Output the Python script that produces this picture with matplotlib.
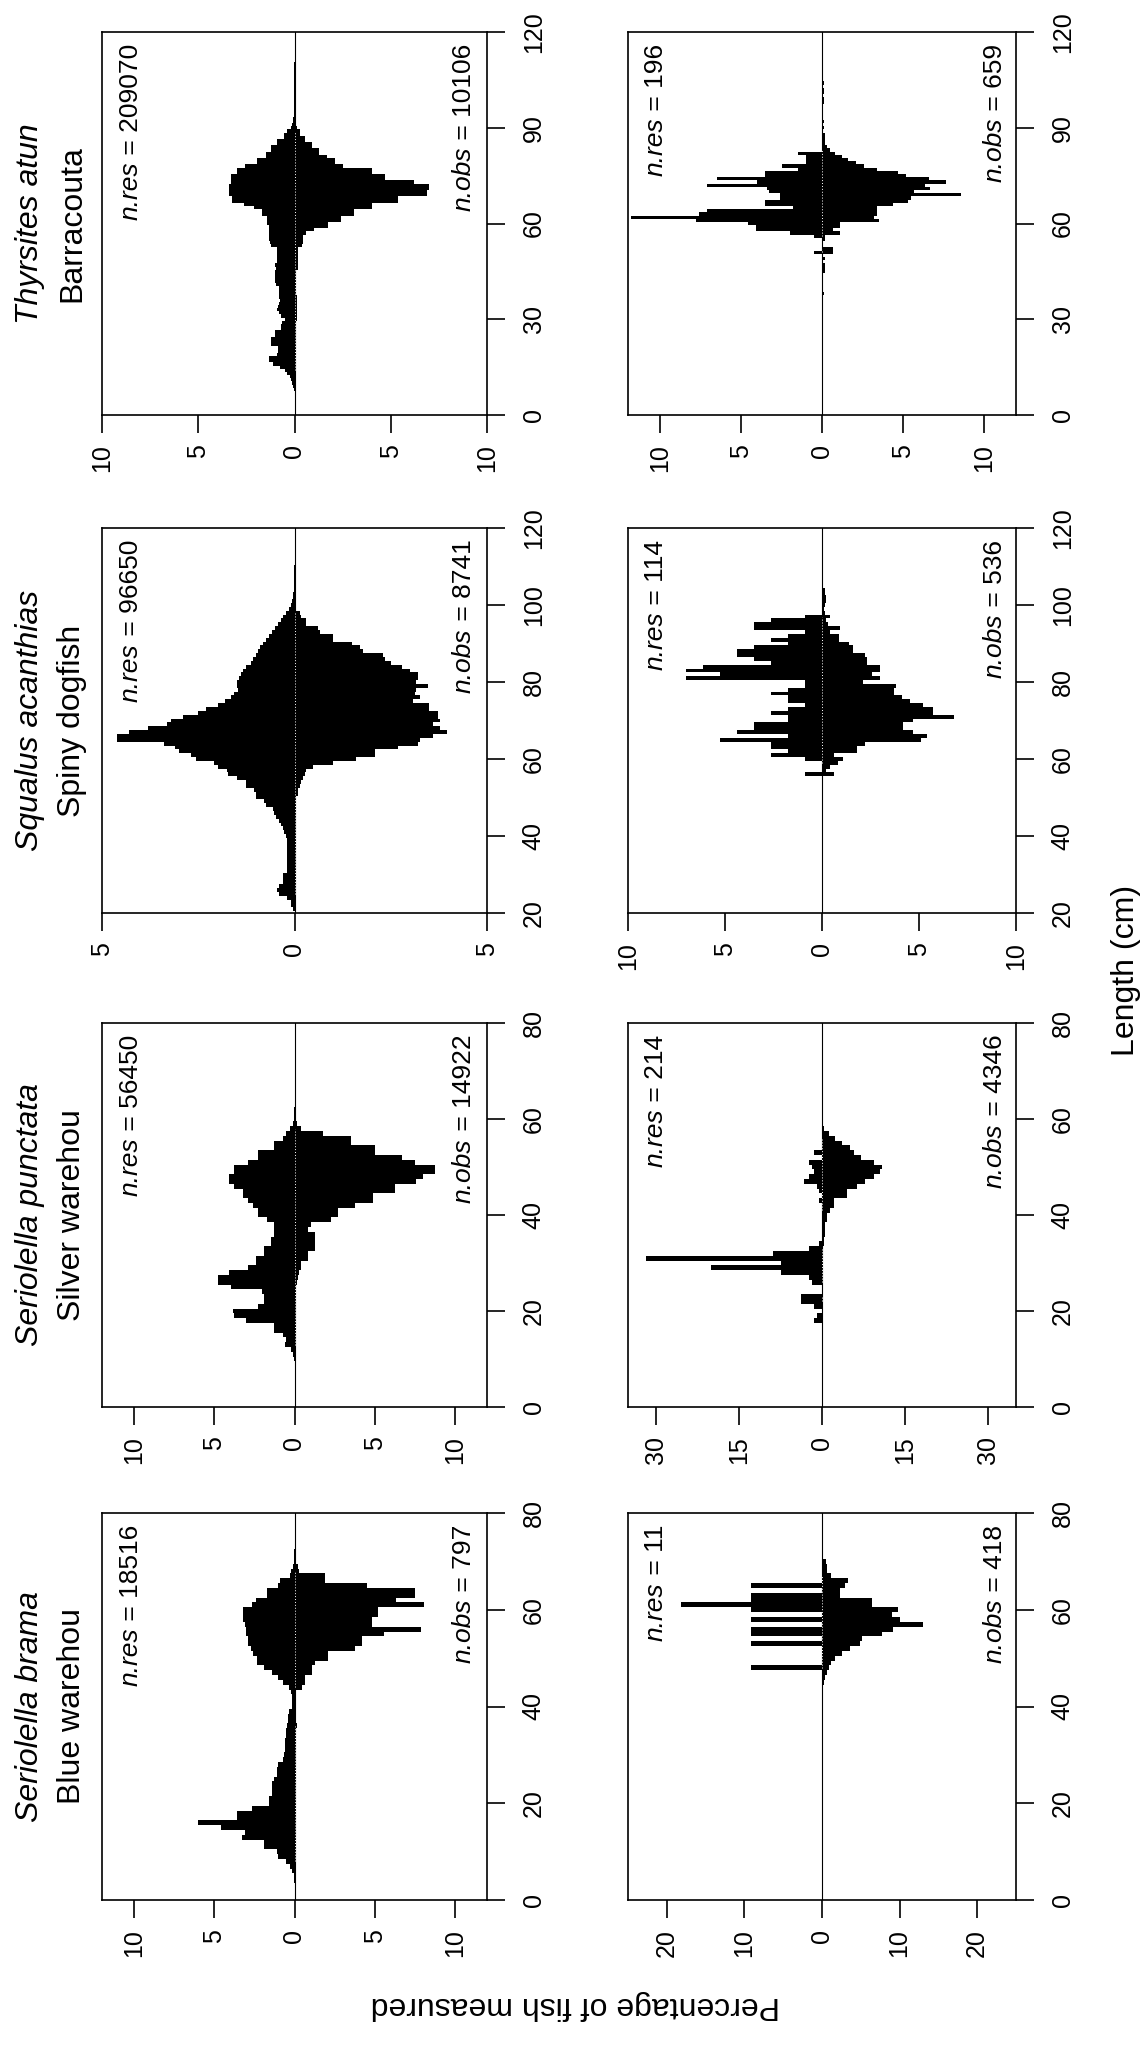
import numpy as np
import matplotlib.pyplot as plt

plt.rcParams['font.family'] = ['Liberation Sans', 'DejaVu Sans']

# page is printed sideways: species run top to bottom, left column = all fish,
# right column = subset. res to the left of 0, obs to the right.
species = ['Thyrsites atun', 'Squalus acanthias', 'Seriolella punctata', 'Seriolella brama']
common_names = ['Barracouta', 'Spiny dogfish', 'Silver warehou', 'Blue warehou']

n_res = [[209070, 196], [96650, 114], [56450, 214], [18516, 11]]
n_obs = [[10106, 659], [8741, 536], [14922, 4346], [797, 418]]

# percentage of fish per 1 cm length class, first class given by *_start
thyr_all_start = 8
thyr_all_res = [0.05, 0.1, 0.15, 0.2, 0.25, 0.4, 0.5, 0.75, 1.1, 1.3,
                1.3, 0.9, 0.85, 0.85, 1.2, 1.2, 1.2, 1.0, 1.0, 0.7,
                0.7, 0.65, 0.5, 0.7, 0.8, 0.9, 0.85, 0.8, 0.75, 0.8,
                0.8, 0.8, 0.8, 0.95, 1.0, 1.0, 1.0, 1.0, 0.95, 1.0,
                0.9, 0.9, 0.9, 0.9, 0.9, 1.2, 1.25, 1.3, 1.3, 1.3,
                1.3, 1.3, 1.45, 1.45, 1.45, 1.7, 1.7, 2.1, 2.6, 3.25,
                3.25, 3.4, 3.4, 3.4, 3.4, 3.3, 3.3, 3.3, 3.0, 3.0,
                2.55, 1.95, 1.95, 1.5, 1.5, 1.2, 1.2, 0.9, 0.9, 0.55,
                0.55, 0.4, 0.2, 0.12, 0.08, 0.06, 0.05, 0.04, 0.03, 0.03,
                0.03, 0.02, 0.02, 0.01, 0.01, 0.01, 0.01, 0.01, 0.01, 0.01,
                0.01, 0.01, 0.01]
thyr_all_obs = [0, 0, 0, 0, 0, 0, 0, 0, 0, 0,
                0, 0, 0, 0, 0, 0, 0, 0, 0, 0,
                0, 0, 0.15, 0.15, 0.15, 0.15, 0.15, 0.15, 0.15, 0.15,
                0.1, 0.1, 0.1, 0.1, 0.1, 0.1, 0.1, 0.1, 0.2, 0.2,
                0.2, 0.2, 0.2, 0.2, 0.2, 0.4, 0.45, 0.45, 0.45, 0.6,
                1.0, 1.75, 1.75, 2.4, 2.4, 3.1, 3.1, 4.0, 4.0, 5.4,
                5.4, 6.9, 6.9, 7.0, 7.0, 6.2, 4.7, 4.7, 4.0, 4.0,
                2.5, 2.1, 2.1, 1.7, 1.25, 1.25, 0.9, 0.9, 0.55, 0.55,
                0.3, 0.3, 0.12, 0.08, 0.05, 0.03, 0.02, 0.02, 0.02, 0.02,
                0.02, 0.02, 0.02, 0, 0, 0, 0, 0, 0, 0,
                0, 0, 0]

thyr_sub_start = 38
thyr_sub_res = [0, 0, 0, 0, 0, 0, 0, 0, 0, 0,
                0, 0, 0, 0.5, 0, 0, 0, 0, 0.5, 2.0,
                4.1, 4.1, 4.6, 7.8, 11.8, 7.6, 7.1, 1.8, 3.5, 3.5,
                2.6, 2.6, 3.3, 3.4, 7.1, 4.0, 6.5, 3.5, 3.5, 1.5,
                2.5, 1.0, 1.0, 1.0, 1.5, 0, 0, 0, 0, 0,
                0, 0, 0, 0, 0, 0, 0, 0, 0, 0,
                0, 0, 0, 0, 0, 0, 0]
thyr_sub_obs = [0.15, 0, 0, 0, 0, 0, 0, 0.2, 0.2, 0.2,
                0, 0.2, 0, 0.7, 0.7, 0, 0, 0.2, 0.2, 1.1,
                0.7, 1.1, 1.1, 3.5, 3.2, 3.4, 3.4, 3.4, 4.4, 5.3,
                5.5, 8.6, 5.7, 6.7, 6.4, 7.7, 6.6, 5.2, 4.7, 3.4,
                2.6, 2.1, 1.6, 1.25, 0.8, 0.5, 0.3, 0.2, 0.2, 0.2,
                0.2, 0, 0.15, 0, 0.15, 0, 0, 0, 0, 0,
                0.15, 0.15, 0, 0.15, 0.15, 0, 0.15]

squa_all_start = 21
squa_all_res = [0.05, 0.1, 0.1, 0.2, 0.4, 0.45, 0.4, 0.3, 0.3, 0.3,
                0.2, 0.2, 0.2, 0.2, 0.2, 0.2, 0.2, 0.2, 0.2, 0.22,
                0.26, 0.3, 0.35, 0.39, 0.48, 0.52, 0.56, 0.74, 0.78, 1.0,
                1.0, 1.04, 1.25, 1.25, 1.5, 1.73, 1.75, 2.0, 2.1, 2.55,
                2.7, 3.0, 3.1, 3.4, 4.6, 4.6, 4.3, 3.8, 3.3, 3.2,
                2.9, 2.5, 2.3, 2.0, 1.8, 1.65, 1.56, 1.47, 1.5, 1.5,
                1.43, 1.4, 1.35, 1.26, 1.13, 1.08, 1.0, 0.95, 0.9, 0.82,
                0.75, 0.65, 0.58, 0.5, 0.42, 0.35, 0.3, 0.22, 0.15, 0.1,
                0.06, 0.04, 0.03, 0.02, 0.02, 0.01, 0.01, 0.01, 0.01, 0.01]
squa_all_obs = [0, 0, 0, 0, 0.05, 0.05, 0.05, 0.05, 0.05, 0.05,
                0.05, 0.05, 0.05, 0.05, 0.05, 0.05, 0.05, 0.05, 0.05, 0.05,
                0.05, 0.05, 0.05, 0.05, 0.05, 0.05, 0.05, 0.05, 0.05, 0.05,
                0.08, 0.1, 0.13, 0.17, 0.22, 0.26, 0.3, 0.48, 1.0, 1.6,
                2.1, 2.1, 2.7, 3.2, 3.25, 3.6, 3.95, 3.77, 3.6, 3.77,
                3.73, 3.73, 3.5, 3.5, 3.08, 3.25, 3.12, 3.16, 3.47, 3.16,
                3.2, 3.2, 3.0, 2.8, 2.5, 2.34, 2.3, 1.78, 1.7, 1.5,
                1.0, 1.0, 0.65, 0.6, 0.3, 0.3, 0.17, 0.13, 0.05, 0.05,
                0.03, 0.01, 0.01, 0.01, 0.01, 0.01, 0.01, 0.01, 0.01, 0.01]

squa_sub_start = 56
squa_sub_res = [0.88, 0, 0, 0, 0.88, 2.63, 1.75, 2.63, 2.63, 5.26,
                1.75, 4.39, 3.51, 3.51, 1.75, 1.75, 2.63, 1.75, 0.88, 1.75,
                1.75, 2.63, 1.75, 0.88, 0.88, 7.02, 5.26, 7.02, 6.14, 2.63,
                3.51, 4.39, 4.39, 3.51, 1.75, 2.63, 1.75, 0.88, 3.51, 3.51,
                2.63, 0.88, 0, 0, 0, 0, 0, 0, 0]
squa_sub_obs = [0.6, 0.2, 0.4, 0.8, 1.1, 0.6, 1.8, 1.8, 2.2, 5.1,
                5.4, 4.7, 4.2, 4.2, 4.7, 6.8, 5.7, 5.7, 5.2, 4.55,
                4.1, 3.7, 3.7, 3.8, 2.1, 3.0, 2.6, 3.0, 3.0, 2.3,
                2.3, 2.2, 1.6, 1.6, 1.4, 0.9, 0.9, 0.4, 0.95, 0.3,
                0.2, 0.4, 0.17, 0.1, 0.15, 0.2, 0.2, 0.15, 0.15]

punc_all_start = 10
punc_all_res = [0.05, 0.1, 0.2, 0.6, 0.5, 0.73, 1.25, 1.25, 3.0, 3.75,
                3.85, 2.3, 1.9, 1.9, 2.0, 3.95, 4.8, 4.8, 4.06, 2.9,
                2.4, 2.4, 1.9, 1.9, 1.45, 1.45, 1.25, 1.25, 1.25, 1.7,
                2.3, 2.3, 2.6, 2.9, 3.2, 3.2, 3.75, 4.06, 4.1, 3.75,
                3.75, 2.9, 2.3, 2.3, 1.25, 1.25, 0.73, 0.5, 0.3, 0.1,
                0.05, 0.02, 0.02]
punc_all_obs = [0, 0, 0, 0, 0, 0, 0, 0, 0, 0,
                0, 0, 0, 0.05, 0.05, 0.1, 0.15, 0.2, 0.3, 0.4,
                0.4, 0.85, 0.85, 1.25, 1.25, 1.25, 1.25, 0.85, 1.05, 2.3,
                2.7, 2.7, 3.75, 4.9, 4.9, 6.25, 6.25, 7.6, 8.0, 8.75,
                8.75, 7.5, 6.7, 5.0, 5.0, 3.5, 3.5, 1.8, 0.4, 0.15,
                0.05, 0, 0]

punc_sub_start = 17
punc_sub_res = [0, 1.4, 0.93, 0, 1.4, 3.74, 3.74, 0, 0, 1.87,
                2.34, 7.48, 20.1, 7.48, 31.8, 8.88, 2.34, 0.47, 0, 0,
                0, 0, 0, 0, 0, 0, 0.47, 0, 0.47, 0.93,
                3.27, 2.34, 1.4, 1.87, 2.34, 0, 1.4, 0, 0, 0,
                0, 0, 0, 0]
punc_sub_obs = [0, 0, 0, 0, 0, 0, 0, 0, 0, 0,
                0, 0, 0, 0, 0, 0.2, 0.2, 0.3, 0.3, 0.6,
                0.6, 0.6, 0.9, 0.9, 1.5, 2.1, 2.1, 4.5, 4.5, 6.3,
                7.8, 9.3, 10.5, 10.8, 9.3, 7.0, 5.7, 5.1, 3.6, 2.4,
                1.2, 0.3, 0, 0]

bram_all_start = 4
bram_all_res = [0.02, 0.05, 0.15, 0.3, 0.5, 1.0, 1.1, 1.9, 1.9, 3.3,
                3.1, 4.6, 6.0, 3.6, 3.6, 2.65, 1.6, 1.6, 1.4, 1.4,
                1.4, 1.3, 1.1, 1.1, 1.0, 0.7, 0.65, 0.6, 0.6, 0.6,
                0.55, 0.5, 0.45, 0.4, 0.4, 0.35, 0.15, 0.15, 0.15, 0.2,
                0.35, 0.7, 1.0, 1.4, 1.9, 2.35, 2.35, 2.6, 2.7, 2.9,
                2.9, 3.0, 3.0, 3.1, 3.2, 3.2, 3.2, 2.65, 2.4, 1.7,
                1.7, 1.0, 0.9, 0.3, 0.2, 0.1, 0.05, 0.02, 0.02]
bram_all_obs = [0, 0, 0, 0, 0, 0, 0, 0, 0, 0,
                0, 0, 0, 0, 0, 0, 0, 0, 0, 0,
                0, 0, 0, 0, 0, 0, 0, 0, 0, 0,
                0, 0, 0.15, 0, 0, 0, 0, 0, 0, 0,
                0.45, 0.65, 0.65, 1.1, 1.1, 1.3, 2.1, 2.1, 3.8, 4.2,
                4.2, 5.6, 7.9, 4.8, 4.8, 5.2, 5.2, 8.1, 6.3, 7.5,
                7.5, 4.5, 1.9, 1.9, 0.3, 0.2, 0, 0, 0]

bram_sub_start = 45
bram_sub_res = [0, 0, 0, 9.09, 0, 0, 0, 0, 9.09, 0,
                9.09, 9.09, 0, 9.09, 0, 9.09, 18.18, 9.09, 9.09, 0,
                9.09, 0, 0, 0, 0, 0]
bram_sub_obs = [0.3, 0.4, 0.6, 0.85, 1.1, 1.7, 2.6, 3.6, 4.9, 5.1,
                7.7, 9.2, 13.0, 10.0, 9.0, 9.8, 6.4, 6.4, 2.35, 2.35,
                3.0, 3.4, 1.1, 0.7, 0.7, 0.5]

panels = [
    [(thyr_all_start, thyr_all_res, thyr_all_obs), (thyr_sub_start, thyr_sub_res, thyr_sub_obs)],
    [(squa_all_start, squa_all_res, squa_all_obs), (squa_sub_start, squa_sub_res, squa_sub_obs)],
    [(punc_all_start, punc_all_res, punc_all_obs), (punc_sub_start, punc_sub_res, punc_sub_obs)],
    [(bram_all_start, bram_all_res, bram_all_obs), (bram_sub_start, bram_sub_res, bram_sub_obs)],
]

# axis ranges
len_lims = [(0, 120), (20, 120), (0, 80), (0, 80)]
len_ticks = [[0, 30, 60, 90, 120], [20, 40, 60, 80, 100, 120],
             [0, 20, 40, 60, 80], [0, 20, 40, 60, 80]]
pct_lims = [[10, 12], [5, 10], [12, 35], [12, 25]]
pct_ticks = [[[-10, -5, 0, 5, 10], [-10, -5, 0, 5, 10]],
             [[-5, 0, 5], [-10, -5, 0, 5, 10]],
             [[-10, -5, 0, 5, 10], [-30, -15, 0, 15, 30]],
             [[-10, -5, 0, 5, 10], [-20, -10, 0, 10, 20]]]

# layout in pixels of the 1144 x 2048 page
W, H = 1144, 2048
col_x = [102, 628]
col_w = [385, 388]
row_top = [32, 528, 1023, 1513]
row_h = [383, 385, 384, 387]


def n_label(ax, x, name, value):
    # italic name followed by upright " = value", reading upwards
    num = ax.text(x, 0.97, ' = %d' % value, transform=ax.transAxes,
                  rotation=90, ha='center', va='top', fontsize=19)
    ax.annotate(name, xy=(0.5, 0), xycoords=num, rotation=90,
                ha='center', va='top', fontsize=19, style='italic')


fig = plt.figure(figsize=(W / 100, H / 100), dpi=100)

for r in range(4):
    for c in range(2):
        start, res, obs = panels[r][c]
        res = np.array(res, dtype=float)
        obs = np.array(obs, dtype=float)
        lengths = start + np.arange(len(res))

        ax = fig.add_axes([col_x[c] / W, 1 - (row_top[r] + row_h[r]) / H,
                           col_w[c] / W, row_h[r] / H])
        ax.axvline(0, color='black', lw=0.8, zorder=1)
        ax.barh(lengths, -res, height=1.0, color='black', lw=0, zorder=2)
        ax.barh(lengths, obs, height=1.0, color='black', lw=0, zorder=2)

        # faint dotted line where the bars meet
        lim = pct_lims[r][c]
        filled = (res + obs) > 0.04 * lim
        ydot = np.where(filled, lengths, np.nan).astype(float)
        ax.plot(np.zeros_like(ydot), ydot, color='white', lw=0.7,
                ls=(0, (1, 2)), zorder=3)

        ax.set_xlim(-lim, lim)
        ax.set_ylim(*len_lims[r])
        xt = pct_ticks[r][c]
        ax.set_xticks(xt, labels=[f'{abs(t):g}' for t in xt], rotation=90)
        ax.set_yticks(len_ticks[r], labels=[str(t) for t in len_ticks[r]],
                      rotation=90, va='center')
        ax.yaxis.tick_right()
        ax.tick_params(axis='x', direction='out', length=13, width=1.2,
                       pad=8, labelsize=18)
        ax.tick_params(axis='y', direction='out', length=13, width=1.2,
                       pad=12, labelsize=18, left=False, right=True,
                       labelleft=False, labelright=True)
        for sp in ax.spines.values():
            sp.set_linewidth(1.2)

        xr = 0.075 if c == 0 else 0.072
        xo = 0.94 if c == 0 else 0.946
        n_label(ax, xr, 'n.res', n_res[r][c])
        n_label(ax, xo, 'n.obs', n_obs[r][c])

    yc = 1 - (row_top[r] + row_h[r] / 2) / H
    fig.text(30 / W, yc, species[r], rotation=90, ha='center', va='center',
             fontsize=23, style='italic')
    fig.text(72 / W, yc, common_names[r], rotation=90, ha='center',
             va='center', fontsize=23)

fig.text(575 / W, 1 - 2005 / H, 'Percentage of fish measured', rotation=180,
         ha='center', va='center', fontsize=23)
fig.text(1126 / W, 1 - 970 / H, 'Length (cm)', rotation=90, ha='center',
         va='center', fontsize=23)

fig.savefig('out.png', dpi=100, facecolor='white')
